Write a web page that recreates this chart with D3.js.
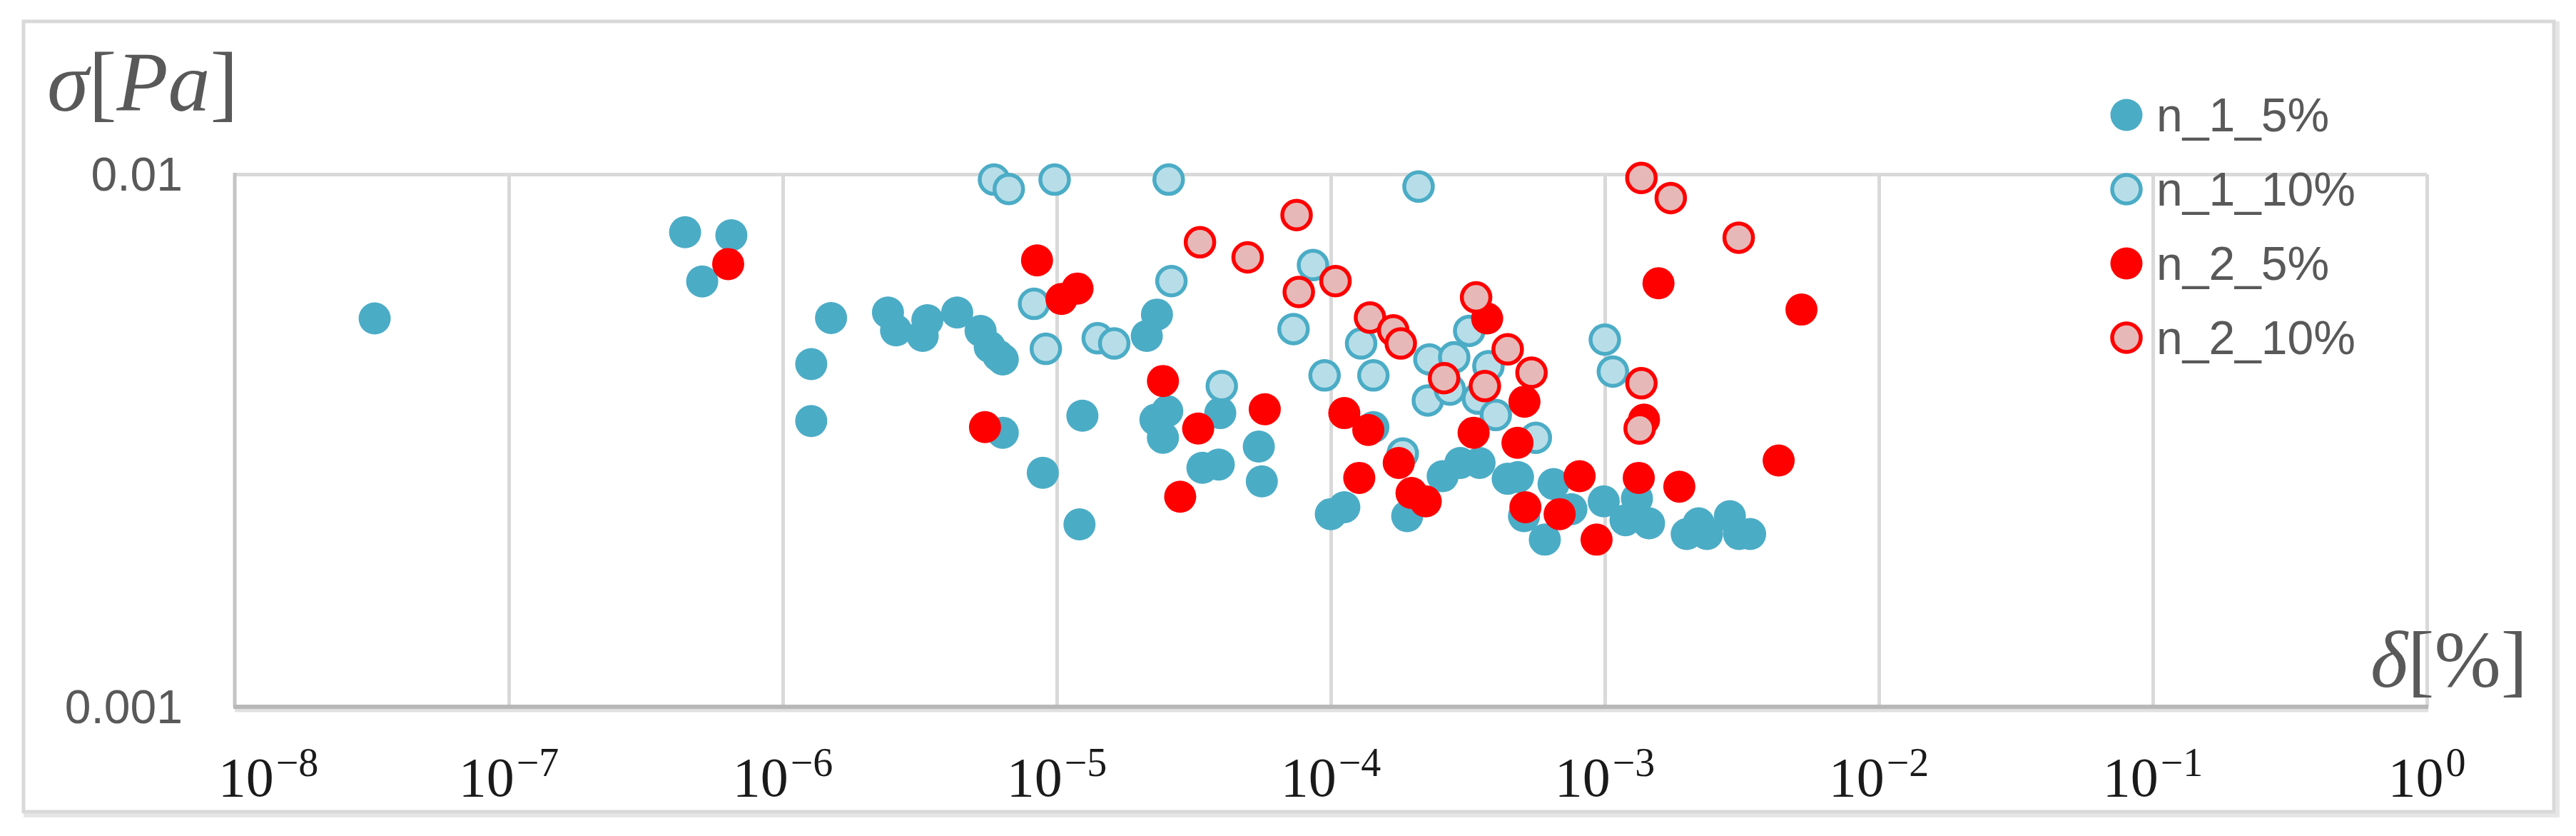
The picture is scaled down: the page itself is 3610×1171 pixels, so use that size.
<!DOCTYPE html>
<html><head><meta charset="utf-8">
<script src="https://cdn.jsdelivr.net/npm/d3@7"></script>
<style>html,body{margin:0;padding:0;background:#fff;} svg{display:block;}</style>
</head><body>
<svg id="chart" width="3610" height="1171"></svg>
<script>
// ---- data ----
const seriesNames = ["n_1_5%", "n_1_10%", "n_2_5%", "n_2_10%"];

const n1_5_delta = [3.24e-8, 4.40e-7, 6.49e-7, 5.08e-7, 1.50e-6, 1.27e-6, 1.27e-6, 2.42e-6, 2.59e-6, 3.24e-6,
  3.37e-6, 4.33e-6, 5.27e-6, 5.69e-6, 6.12e-6, 6.35e-6, 6.35e-6, 8.89e-6, 1.24e-5, 1.21e-5,
  2.13e-5, 2.32e-5, 2.29e-5, 2.53e-5, 2.44e-5, 3.95e-5, 3.40e-5, 3.90e-5, 5.46e-5, 5.60e-5,
  1.00e-4, 1.12e-4, 1.43e-4, 1.90e-4, 2.56e-4, 2.97e-4, 3.49e-4, 4.42e-4, 4.82e-4, 5.07e-4,
  6.04e-4, 6.50e-4, 7.55e-4, 9.91e-4, 1.19e-3, 1.31e-3, 1.45e-3, 1.99e-3, 2.20e-3, 2.36e-3,
  2.86e-3, 3.09e-3, 3.39e-3];
const n1_5_sigma = [0.00536, 0.00778, 0.00768, 0.00629, 0.00537, 0.00440, 0.00344, 0.00550, 0.00509, 0.00497,
  0.00532, 0.00550, 0.00508, 0.00474, 0.00456, 0.00449, 0.00327, 0.00275, 0.00352, 0.00220,
  0.00497, 0.00545, 0.00346, 0.00359, 0.00320, 0.00356, 0.00281, 0.00285, 0.00308, 0.00265,
  0.00230, 0.00237, 0.00335, 0.00228, 0.00271, 0.00287, 0.00287, 0.00268, 0.00270, 0.00228,
  0.00206, 0.00262, 0.00235, 0.00243, 0.00224, 0.00246, 0.00221, 0.00211, 0.00221, 0.00211,
  0.00228, 0.00211, 0.00211];

const n1_10_delta = [5.90e-6, 6.68e-6, 9.82e-6, 2.56e-5, 8.26e-6, 9.12e-6, 1.41e-5, 1.62e-5, 2.62e-5, 4.00e-5,
  2.09e-4, 8.61e-5, 7.31e-5, 9.49e-5, 1.29e-4, 1.43e-4, 2.29e-4, 2.26e-4, 2.82e-4, 2.72e-4,
  3.20e-4, 3.76e-4, 3.44e-4, 4.00e-4, 5.60e-4, 1.00e-3, 1.07e-3, 1.83e-4];
const n1_10_sigma = [0.00977, 0.00938, 0.00977, 0.00977, 0.00571, 0.00470, 0.00492, 0.00481, 0.00630, 0.00400,
  0.00948, 0.00675, 0.00512, 0.00419, 0.00481, 0.00419, 0.00449, 0.00376, 0.00453, 0.00394,
  0.00508, 0.00436, 0.00379, 0.00353, 0.00320, 0.00489, 0.00426, 0.00299];

const n2_5_delta = [6.32e-7, 8.47e-6, 1.04e-5, 1.19e-5, 5.47e-6, 2.44e-5, 2.82e-5, 3.28e-5, 5.74e-5, 1.12e-4,
  1.37e-4, 1.27e-4, 1.77e-4, 1.97e-4, 2.22e-4, 3.32e-4, 3.72e-4, 5.09e-4, 4.80e-4, 5.13e-4,
  6.84e-4, 8.09e-4, 9.33e-4, 1.57e-3, 5.22e-3, 1.39e-3, 1.33e-3, 1.87e-3, 4.31e-3];
const n2_5_sigma = [0.00678, 0.00689, 0.00583, 0.00610, 0.00335, 0.00409, 0.00248, 0.00333, 0.00362, 0.00356,
  0.00331, 0.00269, 0.00287, 0.00252, 0.00243, 0.00327, 0.00536, 0.00374, 0.00313, 0.00237,
  0.00230, 0.00271, 0.00206, 0.00624, 0.00557, 0.00346, 0.00269, 0.00259, 0.00290];

const n2_10_delta = [3.33e-5, 4.97e-5, 7.50e-5, 7.64e-5, 1.04e-4, 1.39e-4, 1.69e-4, 1.80e-4, 2.59e-4, 3.39e-4,
  3.65e-4, 4.42e-4, 5.40e-4, 1.36e-3, 1.74e-3, 3.08e-3, 1.36e-3, 1.34e-3];
const n2_10_sigma = [0.00745, 0.00698, 0.00838, 0.00601, 0.00630, 0.00538, 0.00509, 0.00481, 0.00414, 0.00587,
  0.00400, 0.00469, 0.00424, 0.00984, 0.00902, 0.00760, 0.00405, 0.00333];

const xTickExponents = [-8, -7, -6, -5, -4, -3, -2, -1, 0];
const yTickValues = [0.01, 0.001];
const yTickLabels = ["0.01", "0.001"];

// ---- styles ----
const styles = [
  {fill: "#4bacc6", stroke: "none", sw: 0, r: 22.5},
  {fill: "#b7dee8", stroke: "#4bacc6", sw: 5.5, r: 20},
  {fill: "#ff0000", stroke: "none", sw: 0, r: 22.5},
  {fill: "#e6b9b8", stroke: "#ff0000", sw: 5.5, r: 20}
];
const seriesData = [
  d3.zip(n1_5_delta, n1_5_sigma),
  d3.zip(n1_10_delta, n1_10_sigma),
  d3.zip(n2_5_delta, n2_5_sigma),
  d3.zip(n2_10_delta, n2_10_sigma)
];

const svg = d3.select("#chart");
const L = 329, R = 3401, T = 244, B = 990;

const x = d3.scaleLog().domain([1e-8, 1]).range([L, R]);
const y = d3.scaleLog().domain([0.001, 0.01]).range([B, T]);

// outer chart border (with slight shadow)
svg.append("rect").attr("x", 36).attr("y", 33).attr("width", 3548).attr("height", 1109)
  .attr("fill", "none").attr("stroke", "#e6e6e6").attr("stroke-width", 6);
svg.append("rect").attr("x", 33).attr("y", 30).attr("width", 3546).attr("height", 1107)
  .attr("fill", "#fff").attr("stroke", "#d9d9d9").attr("stroke-width", 5);

// vertical gridlines
const gx = svg.append("g").attr("transform", `translate(0,${B})`)
  .call(d3.axisBottom(x).tickValues(xTickExponents.slice(1).map(e => Math.pow(10, e)))
    .tickSize(-(B - T)).tickFormat(""));
gx.select(".domain").remove();
gx.selectAll(".tick line").attr("stroke", "#d9d9d9").attr("stroke-width", 5);

// horizontal gridline at top
const gy = svg.append("g").attr("transform", `translate(${L},0)`)
  .call(d3.axisLeft(y).tickValues([0.01]).tickSize(-(R - L)).tickFormat(""));
gy.select(".domain").remove();
gy.selectAll(".tick line").attr("stroke", "#d9d9d9").attr("stroke-width", 5);

// left axis line
svg.append("line").attr("x1", L).attr("x2", L).attr("y1", T - 2).attr("y2", B)
  .attr("stroke", "#c4c4c4").attr("stroke-width", 5);
// bottom axis line with shadow
svg.append("line").attr("x1", L).attr("x2", R + 2).attr("y1", B + 5).attr("y2", B + 5)
  .attr("stroke", "#e0e0e0").attr("stroke-width", 5);
svg.append("line").attr("x1", L - 2).attr("x2", R + 2).attr("y1", B).attr("y2", B)
  .attr("stroke", "#b8b8b8").attr("stroke-width", 6);

// y tick labels
svg.append("g").selectAll("text").data(yTickValues).join("text")
  .attr("x", 256).attr("y", d => y(d)).attr("dy", "0.35em")
  .attr("text-anchor", "end")
  .attr("font-family", "Liberation Sans, Arial, sans-serif").attr("font-size", 66)
  .attr("fill", "#595959")
  .text((d, i) => yTickLabels[i]);

// x tick labels (10^k)
const xl = svg.append("g").selectAll("text").data(xTickExponents).join("text")
  .attr("x", (d, i) => i === 0 ? x(Math.pow(10, d)) + 47 : x(Math.pow(10, d)))
  .attr("y", 1115)
  .attr("text-anchor", "middle")
  .attr("font-family", "Liberation Serif, Times New Roman, serif")
  .attr("font-size", 78).attr("fill", "#1a1a1a");
xl.append("tspan").text("10");
xl.append("tspan").attr("font-size", 56).attr("dy", -28).attr("dx", 3)
  .text(d => d < 0 ? "\u2212" + Math.abs(d) : String(d));

// axis titles
const yt = svg.append("text").attr("x", 66).attr("y", 155)
  .attr("font-family", "Liberation Serif, Times New Roman, serif")
  .attr("font-size", 118).attr("fill", "#595959");
yt.append("tspan").attr("font-style", "italic").text("σ");
yt.append("tspan").text("[");
yt.append("tspan").attr("font-style", "italic").text("Pa");
yt.append("tspan").text("]");

const xt = svg.append("text").attr("x", 3542).attr("y", 962).attr("text-anchor", "end")
  .attr("font-family", "Liberation Serif, Times New Roman, serif")
  .attr("font-size", 112).attr("fill", "#595959");
xt.append("tspan").attr("font-style", "italic").text("δ");
xt.append("tspan").text("[%]");

// data points
seriesData.forEach((data, si) => {
  const s = styles[si];
  svg.append("g").selectAll("circle").data(data).join("circle")
    .attr("cx", d => x(d[0])).attr("cy", d => y(d[1])).attr("r", s.r)
    .attr("fill", s.fill).attr("stroke", s.stroke).attr("stroke-width", s.sw);
});

// legend
const lg = svg.append("g").selectAll("g").data(seriesNames).join("g")
  .attr("transform", (d, i) => `translate(2980,${161 + i * 104})`);
lg.append("circle").attr("r", (d, i) => styles[i].r)
  .attr("fill", (d, i) => styles[i].fill).attr("stroke", (d, i) => styles[i].stroke)
  .attr("stroke-width", (d, i) => styles[i].sw);
lg.append("text").attr("x", 42).attr("dy", "0.35em")
  .attr("font-family", "Liberation Sans, Arial, sans-serif").attr("font-size", 66)
  .attr("fill", "#595959").text(d => d);
</script>
</body></html>
